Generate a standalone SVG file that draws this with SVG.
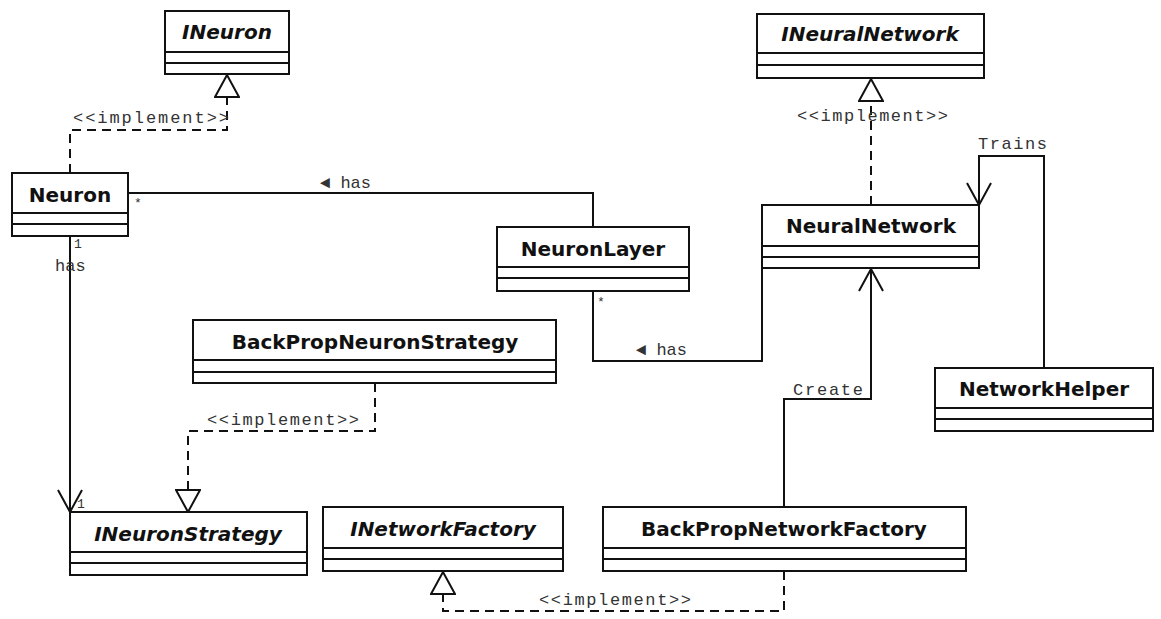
<svg xmlns="http://www.w3.org/2000/svg" width="1161" height="619" viewBox="0 0 1161 619">
<style>
.box{fill:#fff;stroke:#111;stroke-width:2}
.div{stroke:#111;stroke-width:2}
.name{font-family:"DejaVu Sans",Verdana,sans-serif;font-weight:bold;font-size:20px;fill:#111;text-anchor:middle}
.it{font-style:italic}
.lbl{font-family:"Liberation Mono","DejaVu Sans Mono",monospace;font-size:17px;fill:#333}
.sm{font-family:"Liberation Mono","DejaVu Sans Mono",monospace;font-size:13px;fill:#333}
.c{fill:none;stroke:#111;stroke-width:2}
.d{stroke-dasharray:9,6}
</style>
<defs>
<marker id="tri" viewBox="0 0 24 26" refX="23" refY="13" markerWidth="24" markerHeight="26" markerUnits="userSpaceOnUse" orient="auto">
<path d="M1,1 L23,13 L1,25 Z" fill="#fff" stroke="#111" stroke-width="2"/>
</marker>
<marker id="open" viewBox="0 0 24 26" refX="23" refY="13" markerWidth="24" markerHeight="26" markerUnits="userSpaceOnUse" orient="auto">
<path d="M1,1 L23,13 L1,25" fill="none" stroke="#111" stroke-width="2"/>
</marker>
</defs>
<g id="connectors">
<path class="c d" d="M70,173 V130 H227 V75" marker-end="url(#tri)"/>
<path class="c" d="M128,193 H593 V227"/>
<path class="c" d="M593,291 V361 H762 V268"/>
<path class="c" d="M70,236 V512" marker-end="url(#open)"/>
<path class="c d" d="M375,383 V431 H188 V512" marker-end="url(#tri)"/>
<path class="c d" d="M871,205 V79" marker-end="url(#tri)"/>
<path class="c" d="M1044,368 V156 H979 V205" marker-end="url(#open)"/>
<path class="c" d="M784,507 V399 H871 V269" marker-end="url(#open)"/>
<path class="c d" d="M784,571 V611 H443 V572" marker-end="url(#tri)"/>
<text class="lbl" x="73" y="123" textLength="156">&lt;&lt;implement&gt;&gt;</text>
<text class="lbl" x="320" y="188">◄ has</text>
<text class="sm" x="134" y="207">*</text>
<text class="sm" x="74" y="248">1</text>
<text class="lbl" x="55" y="271">has</text>
<text class="sm" x="77" y="508">1</text>
<text class="lbl" x="207" y="425" textLength="152">&lt;&lt;implement&gt;&gt;</text>
<text class="sm" x="597" y="306">*</text>
<text class="lbl" x="636" y="355">◄ has</text>
<text class="lbl" x="797" y="121" textLength="151">&lt;&lt;implement&gt;&gt;</text>
<text class="lbl" x="978" y="149" textLength="69">Trains</text>
<text class="lbl" x="793" y="395" textLength="70">Create</text>
<text class="lbl" x="539" y="605" textLength="152">&lt;&lt;implement&gt;&gt;</text>
</g>
<g id="INeuron">
<rect class="box" x="165" y="11" width="124" height="63"/>
<line class="div" x1="165" y1="52" x2="289" y2="52"/><line class="div" x1="165" y1="63" x2="289" y2="63"/>
<text class="name it" x="227" y="39">INeuron</text>
</g>
<g id="Neuron">
<rect class="box" x="12" y="173" width="116" height="63"/>
<line class="div" x1="12" y1="213" x2="128" y2="213"/><line class="div" x1="12" y1="224" x2="128" y2="224"/>
<text class="name" x="70" y="202">Neuron</text>
</g>
<g id="NeuronLayer">
<rect class="box" x="497" y="227" width="192" height="64"/>
<line class="div" x1="497" y1="267" x2="689" y2="267"/><line class="div" x1="497" y1="278" x2="689" y2="278"/>
<text class="name" x="593" y="256">NeuronLayer</text>
</g>
<g id="INeuralNetwork">
<rect class="box" x="757" y="14" width="227" height="64"/>
<line class="div" x1="757" y1="53" x2="984" y2="53"/><line class="div" x1="757" y1="65" x2="984" y2="65"/>
<text class="name it" x="870" y="41">INeuralNetwork</text>
</g>
<g id="NeuralNetwork">
<rect class="box" x="762" y="205" width="217" height="63"/>
<line class="div" x1="762" y1="246" x2="979" y2="246"/><line class="div" x1="762" y1="257" x2="979" y2="257"/>
<text class="name" x="871" y="233">NeuralNetwork</text>
</g>
<g id="BackPropNeuronStrategy">
<rect class="box" x="193" y="320" width="363" height="63"/>
<line class="div" x1="193" y1="360" x2="556" y2="360"/><line class="div" x1="193" y1="372" x2="556" y2="372"/>
<text class="name" x="375" y="349">BackPropNeuronStrategy</text>
</g>
<g id="NetworkHelper">
<rect class="box" x="935" y="368" width="218" height="63"/>
<line class="div" x1="935" y1="408" x2="1153" y2="408"/><line class="div" x1="935" y1="419" x2="1153" y2="419"/>
<text class="name" x="1044" y="396">NetworkHelper</text>
</g>
<g id="INeuronStrategy">
<rect class="box" x="70" y="512" width="237" height="63"/>
<line class="div" x1="70" y1="552" x2="307" y2="552"/><line class="div" x1="70" y1="563" x2="307" y2="563"/>
<text class="name it" x="188" y="541">INeuronStrategy</text>
</g>
<g id="INetworkFactory">
<rect class="box" x="323" y="507" width="240" height="64"/>
<line class="div" x1="323" y1="548" x2="563" y2="548"/><line class="div" x1="323" y1="559" x2="563" y2="559"/>
<text class="name it" x="443" y="536">INetworkFactory</text>
</g>
<g id="BackPropNetworkFactory">
<rect class="box" x="603" y="507" width="363" height="64"/>
<line class="div" x1="603" y1="548" x2="966" y2="548"/><line class="div" x1="603" y1="559" x2="966" y2="559"/>
<text class="name" x="784" y="536">BackPropNetworkFactory</text>
</g>
</svg>
